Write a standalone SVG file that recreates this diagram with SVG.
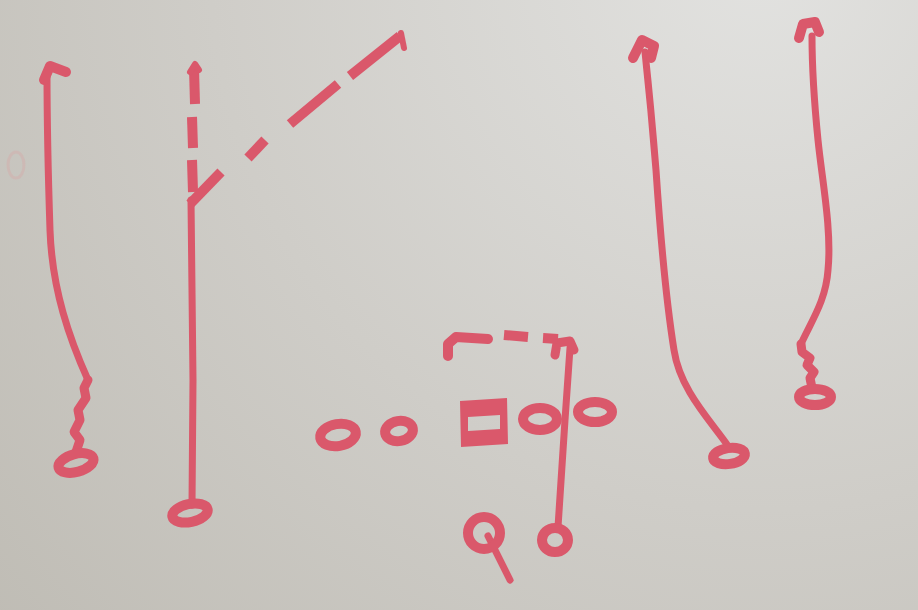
<svg xmlns="http://www.w3.org/2000/svg" width="918" height="610" viewBox="0 0 918 610">
<defs>
<radialGradient id="bg" cx="760" cy="-40" r="1100" gradientUnits="userSpaceOnUse">
<stop offset="0" stop-color="#e2e2e0"/>
<stop offset="0.5" stop-color="#cfcdc8"/>
<stop offset="1" stop-color="#bcb9b1"/>
</radialGradient>
<style>
.m{fill:none;stroke:#da586b;stroke-linecap:round;stroke-linejoin:round}
.r{stroke-width:7}
.d{stroke-width:10;stroke-linecap:butt}
.p{stroke-width:10}
.h{stroke-width:10}
</style>
</defs>
<rect width="918" height="610" fill="url(#bg)"/>
<ellipse cx="16" cy="165" rx="8" ry="13" fill="none" stroke="#d9a0a0" stroke-width="3" opacity="0.3"/>

<g id="routes">
<!-- left WR -->
<path class="m" stroke-width="9" d="M76,452 L80,440 L74,432 L80,420 L78,410 L86,398 L84,388 L88,380"/>
<path class="m r" d="M88,380 C70,340 52,290 50,230 C48,170 47,120 47,72"/>
<path class="m h" d="M44,80 L50,66 L66,72"/>
<!-- slot receiver -->
<path class="m r" d="M192,505 L193,380 L191,200"/>
<g class="m d">
<line x1="193" y1="192" x2="192" y2="160"/>
<line x1="193" y1="148" x2="192" y2="117"/>
<line x1="195" y1="104" x2="194" y2="68"/>
<line x1="190" y1="204" x2="221" y2="172"/>
<line x1="248" y1="158" x2="265" y2="140"/>
<line x1="290" y1="124" x2="338" y2="84"/>
<line x1="350" y1="76" x2="400" y2="36"/>
</g>
<path class="m" stroke-width="6" d="M401,33 L404,48"/>
<path class="m" stroke-width="6" d="M190,72 L195,64 L199,70"/>
<!-- RB route -->
<path class="m r" d="M558,527 L565,420 L570,348"/>
<path class="m" stroke-width="9" d="M555,355 L557,343 L570,341 L574,350"/>
<g class="m d">
<line x1="543" y1="338" x2="558" y2="339"/>
<line x1="504" y1="335" x2="528" y2="337"/>
</g>
<path class="m" stroke-width="10" d="M488,339 L456,337 L448,344 L448,356"/>
<!-- QB arrow -->
<path class="m" stroke-width="7" d="M488,536 L510,580"/>
<!-- right WR1 -->
<path class="m r" d="M728,446 C710,420 680,390 674,350 C666,300 660,230 656,170 C652,120 648,80 645,52"/>
<path class="m h" d="M633,58 L642,40 L654,46 L651,58"/>
<!-- right WR2 -->
<path class="m" stroke-width="9" d="M812,388 L810,378 L814,372 L807,365 L810,358 L802,352 L801,344"/>
<path class="m r" d="M801,344 C812,320 826,300 828,270 C832,230 822,180 818,140 C814,100 812,70 812,36"/>
<path class="m h" d="M799,38 L803,24 L815,22 L819,32"/>
</g>

<g id="left-wr"><ellipse class="m h" cx="76" cy="463" rx="18" ry="9" transform="rotate(-15 76 463)"/></g>
<g id="slot"><ellipse class="m h" cx="190" cy="513" rx="18" ry="9" transform="rotate(-12 190 513)"/></g>
<g id="lt"><ellipse class="m p" cx="338" cy="435" rx="18" ry="11" transform="rotate(-10 338 435)"/></g>
<g id="lg"><ellipse class="m p" cx="399" cy="431" rx="14" ry="10" transform="rotate(-10 399 431)"/></g>
<g id="center"><path fill="#da586b" fill-rule="evenodd" d="M460,401 L507,398 L508,444 L461,447 Z M468,417 L500,415 L500,429 L468,431 Z"/></g>
<g id="rg"><ellipse class="m p" cx="540" cy="419" rx="17" ry="11"/></g>
<g id="rt"><ellipse class="m p" cx="595" cy="412" rx="17" ry="10"/></g>
<g id="qb"><circle class="m p" cx="484" cy="533" r="16"/></g>
<g id="rb"><ellipse class="m p" cx="555" cy="540" rx="13" ry="12"/></g>
<g id="right-wr1"><ellipse class="m h" cx="729" cy="456" rx="16" ry="8" transform="rotate(-8 729 456)"/></g>
<g id="right-wr2"><ellipse class="m h" cx="815" cy="397" rx="16" ry="8"/></g>
</svg>
